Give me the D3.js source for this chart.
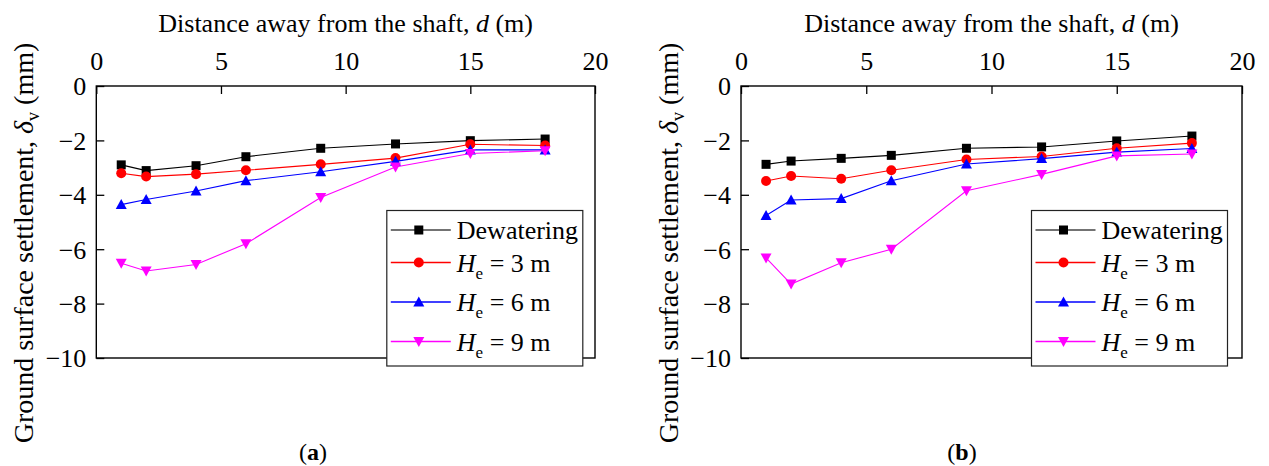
<!DOCTYPE html>
<html><head><meta charset="utf-8">
<script src="https://cdn.jsdelivr.net/npm/d3@7"></script>
<style>body{margin:0;background:#fff}svg{display:block}</style>
</head><body>
<svg id="c" width="1269" height="466"></svg>
<script>
const distance = [1, 2, 4, 6, 9, 12, 15, 18];
const xTicks = [0, 5, 10, 15, 20];
const yTicks = [0, -2, -4, -6, -8, -10];
const seriesNames = ["Dewatering", "3", "6", "9"];
const seriesColors = ["#000000", "#ff0000", "#0000ff", "#ff00ff"];
const seriesSymbols = ["square", "circle", "triangle", "triangleDown"];
// panel (a)
const aDewatering = [-2.90, -3.11, -2.93, -2.60, -2.29, -2.13, -2.01, -1.95];
const aHe3 = [-3.21, -3.33, -3.24, -3.10, -2.88, -2.65, -2.14, -2.19];
const aHe6 = [-4.36, -4.17, -3.86, -3.48, -3.15, -2.77, -2.35, -2.35];
const aHe9 = [-6.52, -6.80, -6.56, -5.80, -4.10, -2.98, -2.48, -2.38];
// panel (b)
const bDewatering = [-2.88, -2.76, -2.66, -2.55, -2.29, -2.24, -2.02, -1.84];
const bHe3 = [-3.49, -3.31, -3.41, -3.10, -2.70, -2.59, -2.29, -2.10];
const bHe6 = [-4.76, -4.19, -4.14, -3.48, -2.87, -2.67, -2.43, -2.30];
const bHe9 = [-6.32, -7.28, -6.50, -6.00, -3.85, -3.25, -2.57, -2.50];

const svg = d3.select("#c");
const FONT = "Liberation Serif, Times New Roman, serif";

function marker(g, sym, color, cx, cy) {
  if (sym === "square") {
    g.append("rect").attr("x", cx - 4.5).attr("y", cy - 4.5).attr("width", 9).attr("height", 9).attr("fill", color);
  } else if (sym === "circle") {
    g.append("circle").attr("cx", cx).attr("cy", cy).attr("r", 5).attr("fill", color);
  } else if (sym === "triangle") {
    g.append("path").attr("d", `M${cx},${cy-5.5}L${cx+5.5},${cy+4.5}L${cx-5.5},${cy+4.5}Z`).attr("fill", color);
  } else {
    g.append("path").attr("d", `M${cx},${cy+5.5}L${cx+5.5},${cy-4.5}L${cx-5.5},${cy-4.5}Z`).attr("fill", color);
  }
}

function panel(x0, x1, series, label, labelX) {
  const top = 86, bottom = 358;
  const x = d3.scaleLinear().domain([0, 20]).range([x0, x1]);
  const y = d3.scaleLinear().domain([0, -10]).range([top, bottom]);
  const g = svg.append("g");

  // axes
  const ax = g.append("g").attr("transform", `translate(0,${top})`)
    .call(d3.axisTop(x).tickValues(xTicks).tickSize(-8).tickPadding(16));
  const ay = g.append("g").attr("transform", `translate(${x0},0)`)
    .call(d3.axisLeft(y).tickValues(yTicks).tickSize(-8).tickPadding(10));
  [ax, ay].forEach(a => {
    a.select(".domain").remove();
    a.selectAll("line").attr("stroke", "#000").attr("stroke-width", 1.3);
    a.selectAll("text").attr("font-family", FONT).attr("font-size", 26).attr("fill", "#000");
  });
  ay.selectAll("text").attr("dy", "0.34em");

  // frame
  g.append("rect").attr("x", x0).attr("y", top).attr("width", x1 - x0).attr("height", bottom - top)
    .attr("fill", "none").attr("stroke", "#000").attr("stroke-width", 1.4);

  // series
  const line = d3.line().x((d, i) => x(distance[i])).y(d => y(d));
  series.forEach((vals, k) => {
    g.append("path").attr("d", line(vals)).attr("fill", "none")
      .attr("stroke", seriesColors[k]).attr("stroke-width", 1.1);
    vals.forEach((v, i) => marker(g, seriesSymbols[k], seriesColors[k], x(distance[i]), y(v)));
  });

  // titles
  g.append("text").attr("x", (x0 + x1) / 2).attr("y", 32).attr("text-anchor", "middle")
    .attr("font-family", FONT).attr("font-size", 26).attr("fill", "#000")
    .call(t => {
      t.append("tspan").text("Distance away from the shaft, ");
      t.append("tspan").attr("font-style", "italic").text("d");
      t.append("tspan").text(" (m)");
    });
  const yl = g.append("text").attr("transform", `translate(${x0 - 63},243) rotate(-90)`)
    .attr("text-anchor", "middle").attr("font-family", FONT).attr("font-size", 28).attr("fill", "#000");
  yl.append("tspan").text("Ground surface settlement, ");
  yl.append("tspan").attr("font-style", "italic").text("δ");
  yl.append("tspan").attr("font-size", 18).attr("dy", 6).text("v");
  yl.append("tspan").attr("dy", -6).text(" (mm)");

  // legend
  const lx = x0 + 290.5, ly = 210.5, lw = 196, lh = 155.5;
  const lg = g.append("g");
  lg.append("rect").attr("x", lx).attr("y", ly).attr("width", lw).attr("height", lh)
    .attr("fill", "#fff").attr("stroke", "#222").attr("stroke-width", 1.2);
  const rowY = [230, 262.5, 302, 341.5];
  seriesNames.forEach((nm, k) => {
    const ry = rowY[k];
    lg.append("line").attr("x1", lx + 4).attr("x2", lx + 64).attr("y1", ry).attr("y2", ry)
      .attr("stroke", k === 0 ? "#444" : seriesColors[k]).attr("stroke-width", 1.3);
    marker(lg, seriesSymbols[k], seriesColors[k], lx + 32, ry);
    const t = lg.append("text").attr("x", lx + 70).attr("y", ry + 9)
      .attr("font-family", FONT).attr("font-size", 26).attr("fill", "#000");
    if (k === 0) t.text(nm);
    else {
      t.append("tspan").attr("font-style", "italic").text("H");
      t.append("tspan").attr("font-size", 17).attr("dy", 7).text("e");
      t.append("tspan").attr("dy", -7).text(" = " + nm + " m");
    }
  });

  // panel label
  const pl = svg.append("text").attr("x", labelX).attr("y", 460).attr("text-anchor", "middle")
    .attr("font-family", FONT).attr("font-size", 24).attr("fill", "#000");
  pl.append("tspan").text("(");
  pl.append("tspan").attr("font-weight", "bold").text(label);
  pl.append("tspan").text(")");
}

panel(96.3, 595, [aDewatering, aHe3, aHe6, aHe9], "a", 313);
panel(741, 1242, [bDewatering, bHe3, bHe6, bHe9], "b", 962);
</script>
</body></html>
